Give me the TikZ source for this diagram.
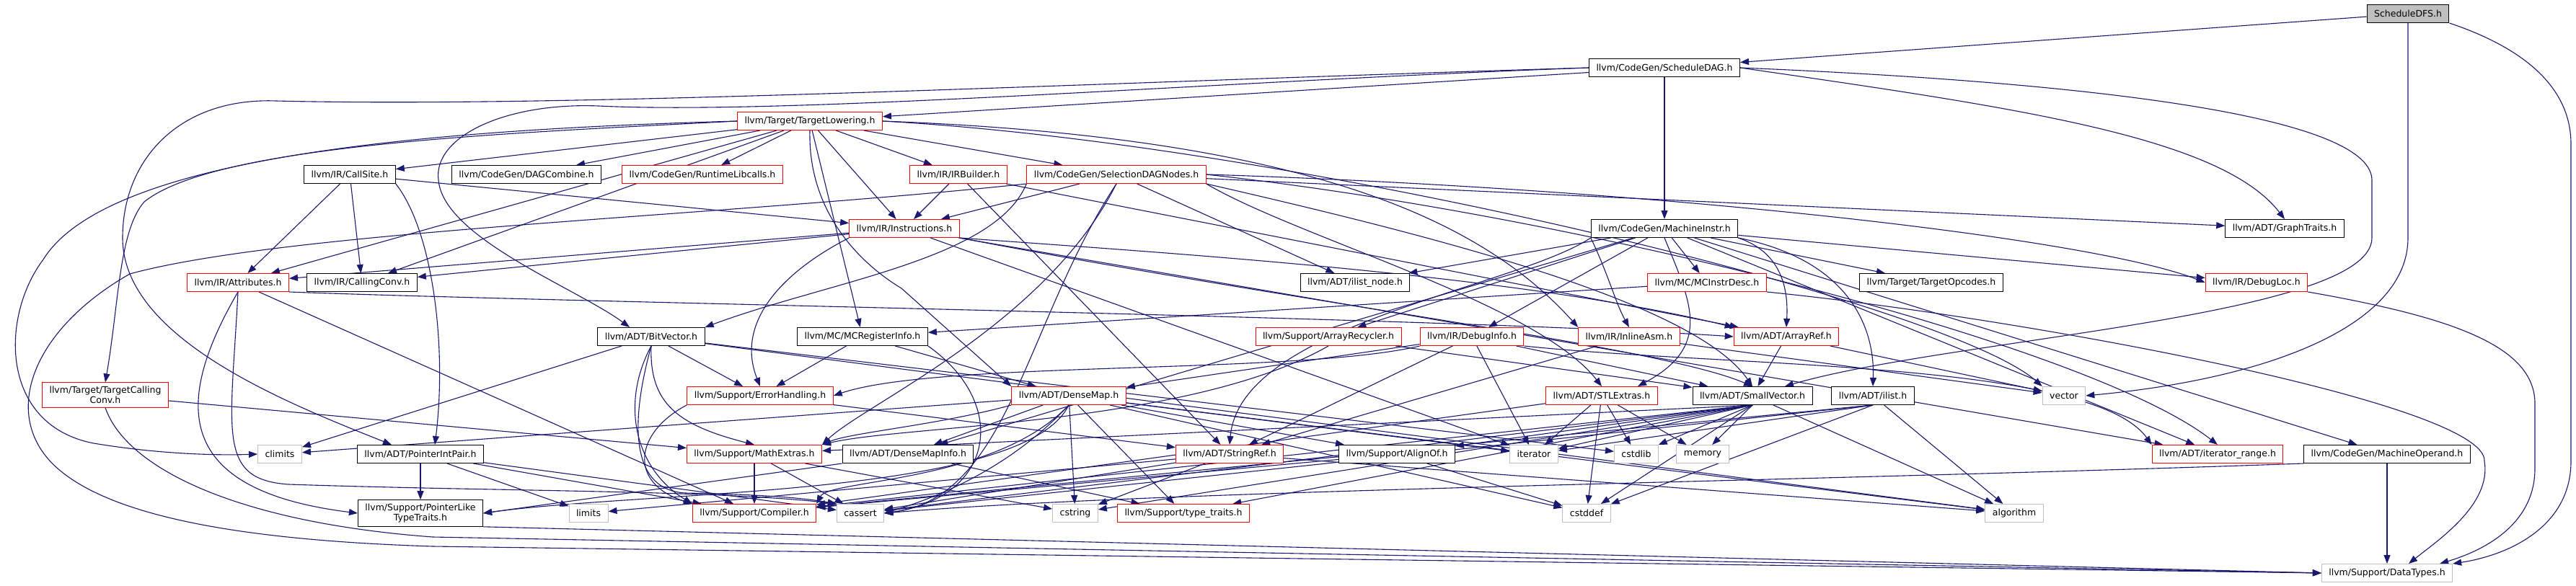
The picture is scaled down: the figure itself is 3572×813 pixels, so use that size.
\documentclass[tikz,border=0pt]{standalone}
\usepackage{fontspec}
\newfontfamily\dvs{DejaVu Sans}
\usetikzlibrary{arrows.meta}
\definecolor{edgeblue}{HTML}{191970}
\definecolor{sysgray}{HTML}{BFBFBF}
\pgfdeclarelayer{edges}
\pgfsetlayers{edges,main}

\begin{document}
\begin{tikzpicture}[x=1pt,y=-1pt,
  inc/.style={draw,fill=white,rectangle,minimum height=25pt,inner xsep=10pt,inner ysep=5pt,line width=1pt,align=center,font=\dvs\fontsize{12.5pt}{14.5pt}\selectfont},
  redinc/.style={inc,draw=red},
  blkinc/.style={inc,draw=black},
  sysinc/.style={inc,draw=sysgray},
  rootinc/.style={inc,draw=black,fill=sysgray},
  dep/.style={draw=edgeblue,line width=1.1pt,-{Triangle[length=12pt,width=9pt]}}]
\useasboundingbox (0,0) rectangle (3572,813);

\node[rootinc] (dfs) at (3339,19) {ScheduleDFS.h};
\node[blkinc] (sdag) at (2308,94) {llvm/CodeGen/ScheduleDAG.h};
\node[redinc] (tl) at (1123,168) {llvm/Target/TargetLowering.h};
\node[blkinc] (callsite) at (485,242) {llvm/IR/CallSite.h};
\node[blkinc] (dagcomb) at (730,242) {llvm/CodeGen/DAGCombine.h};
\node[redinc] (rtlib) at (974,242) {llvm/CodeGen/RuntimeLibcalls.h};
\node[redinc] (irb) at (1329,242) {llvm/IR/IRBuilder.h};
\node[redinc] (sdn) at (1548,242) {llvm/CodeGen/SelectionDAGNodes.h};
\node[redinc] (instrs) at (1254,317) {llvm/IR/Instructions.h};
\node[blkinc] (mi) at (2308,317) {llvm/CodeGen/MachineInstr.h};
\node[blkinc] (graph) at (3168,317) {llvm/ADT/GraphTraits.h};
\node[redinc] (attr) at (330,392) {llvm/IR/Attributes.h};
\node[blkinc] (cc) at (502,392) {llvm/IR/CallingConv.h};
\node[blkinc] (ilnode) at (1879,392) {llvm/ADT/ilist\_node.h};
\node[redinc] (mcid) at (2367,392) {llvm/MC/MCInstrDesc.h};
\node[blkinc] (topc) at (2678,392) {llvm/Target/TargetOpcodes.h};
\node[redinc] (dloc) at (3129,392) {llvm/IR/DebugLoc.h};
\node[blkinc] (bitvec) at (903,467) {llvm/ADT/BitVector.h};
\node[blkinc] (mcri) at (1196,467) {llvm/MC/MCRegisterInfo.h};
\node[redinc] (arec) at (1842,467) {llvm/Support/ArrayRecycler.h};
\node[redinc] (dinfo) at (2041,467) {llvm/IR/DebugInfo.h};
\node[redinc] (iasm) at (2259,467) {llvm/IR/InlineAsm.h};
\node[redinc] (aref) at (2477,467) {llvm/ADT/ArrayRef.h};
\node[redinc] (tcc) at (146,548) {llvm/Target/TargetCalling\\Conv.h};
\node[redinc] (errh) at (1054,549) {llvm/Support/ErrorHandling.h};
\node[redinc] (dmap) at (1482,549) {llvm/ADT/DenseMap.h};
\node[redinc] (stl) at (2221,549) {llvm/ADT/STLExtras.h};
\node[blkinc] (svec) at (2430,549) {llvm/ADT/SmallVector.h};
\node[blkinc] (ilist) at (2597,549) {llvm/ADT/ilist.h};
\node[sysinc] (vector) at (2862,549) {vector};
\node[sysinc] (climits) at (388,630) {climits};
\node[blkinc] (pip) at (583,630) {llvm/ADT/PointerIntPair.h};
\node[redinc] (mathx) at (1046,630) {llvm/Support/MathExtras.h};
\node[blkinc] (dmi) at (1259,630) {llvm/ADT/DenseMapInfo.h};
\node[redinc] (sref) at (1705,630) {llvm/ADT/StringRef.h};
\node[blkinc] (alignof) at (1937,630) {llvm/Support/AlignOf.h};
\node[sysinc] (iter) at (2127,630) {iterator};
\node[sysinc] (cstdlib) at (2269,630) {cstdlib};
\node[sysinc] (memory) at (2361,630) {memory};
\node[redinc] (itrange) at (3075,630) {llvm/ADT/iterator\_range.h};
\node[blkinc] (mop) at (3310,630) {llvm/CodeGen/MachineOperand.h};
\node[blkinc] (pltt) at (583,712) {llvm/Support/PointerLike\\TypeTraits.h};
\node[sysinc] (limits) at (816,712) {limits};
\node[redinc] (compiler) at (1046,712) {llvm/Support/Compiler.h};
\node[sysinc] (cassert) at (1193,712) {cassert};
\node[sysinc] (cstring) at (1491,712) {cstring};
\node[redinc] (ttraits) at (1641,712) {llvm/Support/type\_traits.h};
\node[sysinc] (cstddef) at (2200,712) {cstddef};
\node[sysinc] (algo) at (2793,712) {algorithm};
\node[sysinc] (dtypes) at (3310,795) {llvm/Support/DataTypes.h};

\begin{pgfonlayer}{edges}
\fill[white] (0,0) rectangle (3572,813);
% ScheduleDFS.h
\draw[dep] (dfs) -- (sdag);
\draw[dep] (dfs.south) -- (3339,330) .. controls (3339,450) and (3150,525) .. (vector.east);
\draw[dep] (dfs.south east) .. controls (3480,60) and (3565,110) .. (3565,200) -- (3565,640) .. controls (3565,730) and (3480,770) .. (dtypes.north east);
% ScheduleDAG.h
\draw[dep] (sdag) -- (tl);
\draw[dep] (sdag) -- (mi);
\draw[dep] (sdag.west) .. controls (1700,112) and (1100,160) .. (830,147) .. controls (700,142) and (600,190) .. (608,250) .. controls (615,330) and (800,400) .. ([xshift=-30pt]bitvec.north);
\draw[dep] (sdag.west) .. controls (1500,115) and (800,150) .. (383,140) .. controls (250,135) and (170,220) .. (170,330) .. controls (170,470) and (400,560) .. ([xshift=-40pt]pip.north);
\draw[dep] (sdag.east) .. controls (2800,150) and (3080,190) .. (graph.north);
\draw[dep] (sdag.east) .. controls (2800,110) and (3289,150) .. (3289,250) -- (3289,330) .. controls (3289,440) and (2700,470) .. ([xshift=45pt]svec.north);
% TargetLowering.h
\draw[dep] (tl) -- (callsite);
\draw[dep] (tl) -- (dagcomb);
\draw[dep] (tl) -- (rtlib);
\draw[dep] (tl) -- (irb);
\draw[dep] (tl) -- (sdn);
\draw[dep] (tl) -- (instrs);
\draw[dep] (tl) -- (attr);
\draw[dep] (tl) -- (cc);
\draw[dep] (tl) -- (mcri);
\draw[dep] (tl.south) .. controls (1120,300) and (1200,370) .. (1250,400) -- (dmap.north west);
\draw[dep] (tl.east) .. controls (1800,190) and (2050,300) .. (iasm.north west);
\draw[dep] (tl.east) .. controls (1800,200) and (2700,420) .. (vector.north west);
\draw[dep] (tl.west) .. controls (700,185) and (300,200) .. (200,280) .. controls (165,320) and (165,420) .. (tcc.north);
\draw[dep] (tl.west) .. controls (600,180) and (150,215) .. (60,360) .. controls (0,440) and (0,590) .. (130,615) .. controls (220,630) and (300,632) .. (climits.west);
% CallSite.h
\draw[dep] (callsite) -- (attr);
\draw[dep] (callsite) -- (cc);
\draw[dep] (callsite) -- (instrs);
\draw[dep] (callsite.south east) .. controls (600,320) and (620,480) .. ([xshift=20pt]pip.north);
% IRBuilder.h
\draw[dep] (irb) -- (instrs);
\draw[dep] (irb) -- (sref);
\draw[dep] (irb) -- (aref);
% SelectionDAGNodes.h
\draw[dep] (sdn) -- (instrs);
\draw[dep] (sdn) -- (graph);
\draw[dep] (sdn) -- (ilnode);
\draw[dep] (sdn.east) .. controls (2300,262) and (2900,330) .. (dloc.west);
\draw[dep] (sdn.south east) .. controls (1800,330) and (2130,420) .. (stl.north);
\draw[dep] (sdn.south east) .. controls (2000,330) and (2350,420) .. (svec.north);
\draw[dep] (sdn.east) .. controls (2200,300) and (2900,480) .. (itrange.north);
\draw[dep] (sdn.south west) .. controls (1380,360) and (1150,390) .. (bitvec.north east);
\draw[dep] (sdn.south) .. controls (1450,450) and (1200,560) .. (mathx.north east);
\draw[dep] (sdn.south) .. controls (1420,450) and (1400,690) .. (cassert.east);
\draw[dep] (sdn.south west) .. controls (1000,300) and (400,320) .. (180,380) .. controls (40,460) and (0,580) .. (80,650) .. controls (160,720) and (350,750) .. (600,758) -- (dtypes.west);
% Instructions.h
\draw[dep] (instrs) -- (attr);
\draw[dep] (instrs) -- (cc);
\draw[dep] (instrs.south east) .. controls (1600,350) and (2100,380) .. (aref.north west);
\draw[dep] (instrs.south east) .. controls (1800,420) and (2300,480) .. (svec.north);
\draw[dep] (instrs) -- (itrange);
\draw[dep] (instrs) -- (iter);
\draw[dep] (instrs.south west) .. controls (1080,380) and (1020,450) .. (errh.north);
% MachineInstr.h
\draw[dep] (mi) -- (ilnode);
\draw[dep] (mi) -- (mcid);
\draw[dep] (mi) -- (topc);
\draw[dep] (mi) -- (dloc);
\draw[dep] (mi) -- (mop);
\draw[dep] (mi) -- (itrange);
\draw[dep] (mi) -- (dinfo);
\draw[dep] (mi) -- (arec);
\draw[dep] (mi) -- (dmi);
\draw[dep] (mi.south west) .. controls (2230,380) and (2240,420) .. (iasm.north);
\draw[dep] (mi.south east) .. controls (2470,350) and (2480,400) .. (aref.north);
\draw[dep] (mi.south east) .. controls (2560,360) and (2600,450) .. (ilist.north);
\draw[dep] (mi.south) .. controls (2345,420) and (2375,480) .. ([xshift=50pt]stl.north);
\draw[dep] (mi.south west) .. controls (2100,400) and (1720,450) .. (sref.north);
% Attributes.h
\draw[dep] (attr) -- (compiler);
\draw[dep] (attr.south east) .. controls (800,420) and (2000,440) .. (aref.west);
\draw[dep] (attr.south) .. controls (240,560) and (240,680) .. (pltt.west);
\draw[dep] (attr.south) .. controls (320,600) and (300,665) .. (400,672) .. controls (700,682) and (1000,680) .. (cassert.north west);
% MCInstrDesc.h, DebugLoc.h
\draw[dep] (mcid) -- (mcri);
\draw[dep] (mcid.south east) .. controls (2800,440) and (3450,560) .. (3445,640) .. controls (3455,700) and (3380,750) .. ([xshift=30pt]dtypes.north);
\draw[dep] (dloc.south east) .. controls (3400,440) and (3515,480) .. (3515,560) -- (3515,650) .. controls (3515,730) and (3440,765) .. ([xshift=-18pt]dtypes.north east);
% BitVector.h
\draw[dep] (bitvec) -- (errh);
\draw[dep] (bitvec) -- (climits);
\draw[dep] (bitvec) -- (cstdlib);
\draw[dep] (bitvec) -- (algo);
\draw[dep] (bitvec.south) .. controls (870,600) and (880,680) .. (950,684) .. controls (1050,686) and (1110,690) .. (cassert.north west);
\draw[dep] (bitvec.south) .. controls (860,560) and (880,650) .. (compiler.north west);
\draw[dep] (bitvec.south) .. controls (900,560) and (940,590) .. (mathx.north);
% MCRegisterInfo.h
\draw[dep] (mcri) -- (dmap);
\draw[dep] (mcri) -- (errh);
\draw[dep] (mcri.south east) .. controls (1400,560) and (1380,690) .. (cassert.east);
% ArrayRecycler.h
\draw[dep] (arec) -- (svec);
\draw[dep] (arec.south) .. controls (1650,590) and (1250,590) .. (mathx.north east);
% DebugInfo.h
\draw[dep] (dinfo) -- (dmap);
\draw[dep] (dinfo) -- (svec);
\draw[dep] (dinfo) -- (sref);
\draw[dep] (dinfo) -- (iter);
\draw[dep] (dinfo.south west) .. controls (1800,520) and (1300,500) .. (errh.east);
\draw[dep] (dinfo.south east) .. controls (2400,510) and (2900,500) .. (itrange.north west);
% InlineAsm.h, ArrayRef.h
\draw[dep] (iasm) -- (sref);
\draw[dep] (iasm) -- (vector);
\draw[dep] (aref) -- (svec);
\draw[dep] (aref) -- (vector);
% TargetCallingConv.h
\draw[dep] (tcc) -- (mathx);
\draw[dep] (tcc.south) .. controls (175,650) and (330,725) .. (600,745) -- (dtypes.west);
% ErrorHandling.h
\draw[dep] (errh) -- (sref);
\draw[dep] (errh.south west) .. controls (880,600) and (870,670) .. (compiler.north west);
% DenseMap.h
\draw[dep] (dmap) -- (dmi);
\draw[dep] (dmap) -- (alignof);
\draw[dep] (dmap) -- (ttraits);
\draw[dep] (dmap) -- (algo);
\draw[dep] (dmap) -- (climits);
\draw[dep] (dmap) -- (cstddef);
\draw[dep] (dmap) -- (cstring);
\draw[dep] (dmap) -- (iter);
\draw[dep] (dmap.south west) .. controls (1300,590) and (1180,600) .. (mathx.north east);
\draw[dep] (dmap.south) .. controls (1420,690) and (900,680) .. (pltt.east);
\draw[dep] (dmap.south) .. controls (1380,670) and (1150,665) .. (compiler.north east);
\draw[dep] (dmap.south) .. controls (1400,650) and (1300,690) .. (cassert.east);
% STLExtras.h
\draw[dep] (stl) -- (compiler);
\draw[dep] (stl) -- (cstddef);
\draw[dep] (stl) -- (cstdlib);
\draw[dep] (stl) -- (iter);
\draw[dep] (stl) -- (memory);
% SmallVector.h
\draw[dep] (svec.south) -- (alignof);
\draw[dep] (svec.south) -- (compiler);
\draw[dep] (svec.south) -- (mathx);
\draw[dep] (svec.south) -- (ttraits);
\draw[dep] (svec.south) -- (cassert);
\draw[dep] (svec.south) -- (cstddef);
\draw[dep] (svec.south) -- (cstdlib);
\draw[dep] (svec.south) -- (cstring);
\draw[dep] (svec.south) -- (iter);
\draw[dep] (svec.south) -- (memory);
\draw[dep] (svec) -- (algo);
% ilist.h
\draw[dep] (ilist.south) -- (compiler);
\draw[dep] (ilist.south) -- (cassert);
\draw[dep] (ilist.south) -- (cstddef);
\draw[dep] (ilist.south) -- (iter);
\draw[dep] (ilist) -- (algo);
% PointerIntPair.h, PointerLikeTypeTraits.h
\draw[dep] (pip) -- (pltt);
\draw[dep] (pip) -- (limits);
\draw[dep] (pip) -- (compiler);
\draw[dep] (pip) -- (cassert);
\draw[dep] (pltt.south east) -- (dtypes.west);
% MathExtras.h, DenseMapInfo.h
\draw[dep] (mathx) -- (compiler);
\draw[dep] (mathx) -- (cassert);
\draw[dep] (mathx) -- (cstring);
\draw[dep] (dmi.south west) -- (pltt.east);
\draw[dep] (dmi) -- (ttraits);
% StringRef.h, AlignOf.h
\draw[dep] (sref) -- (algo);
\draw[dep] (sref) -- (cassert);
\draw[dep] (sref) -- (cstring);
\draw[dep] (sref) -- (limits);
\draw[dep] (alignof) -- (compiler);
\draw[dep] (alignof) -- (cstddef);
% MachineOperand.h
\draw[dep] (mop) -- (dtypes);
\draw[dep] (mop.south west) .. controls (2500,668) and (1600,680) .. (cassert.east);
\end{pgfonlayer}
\end{tikzpicture}
\end{document}
